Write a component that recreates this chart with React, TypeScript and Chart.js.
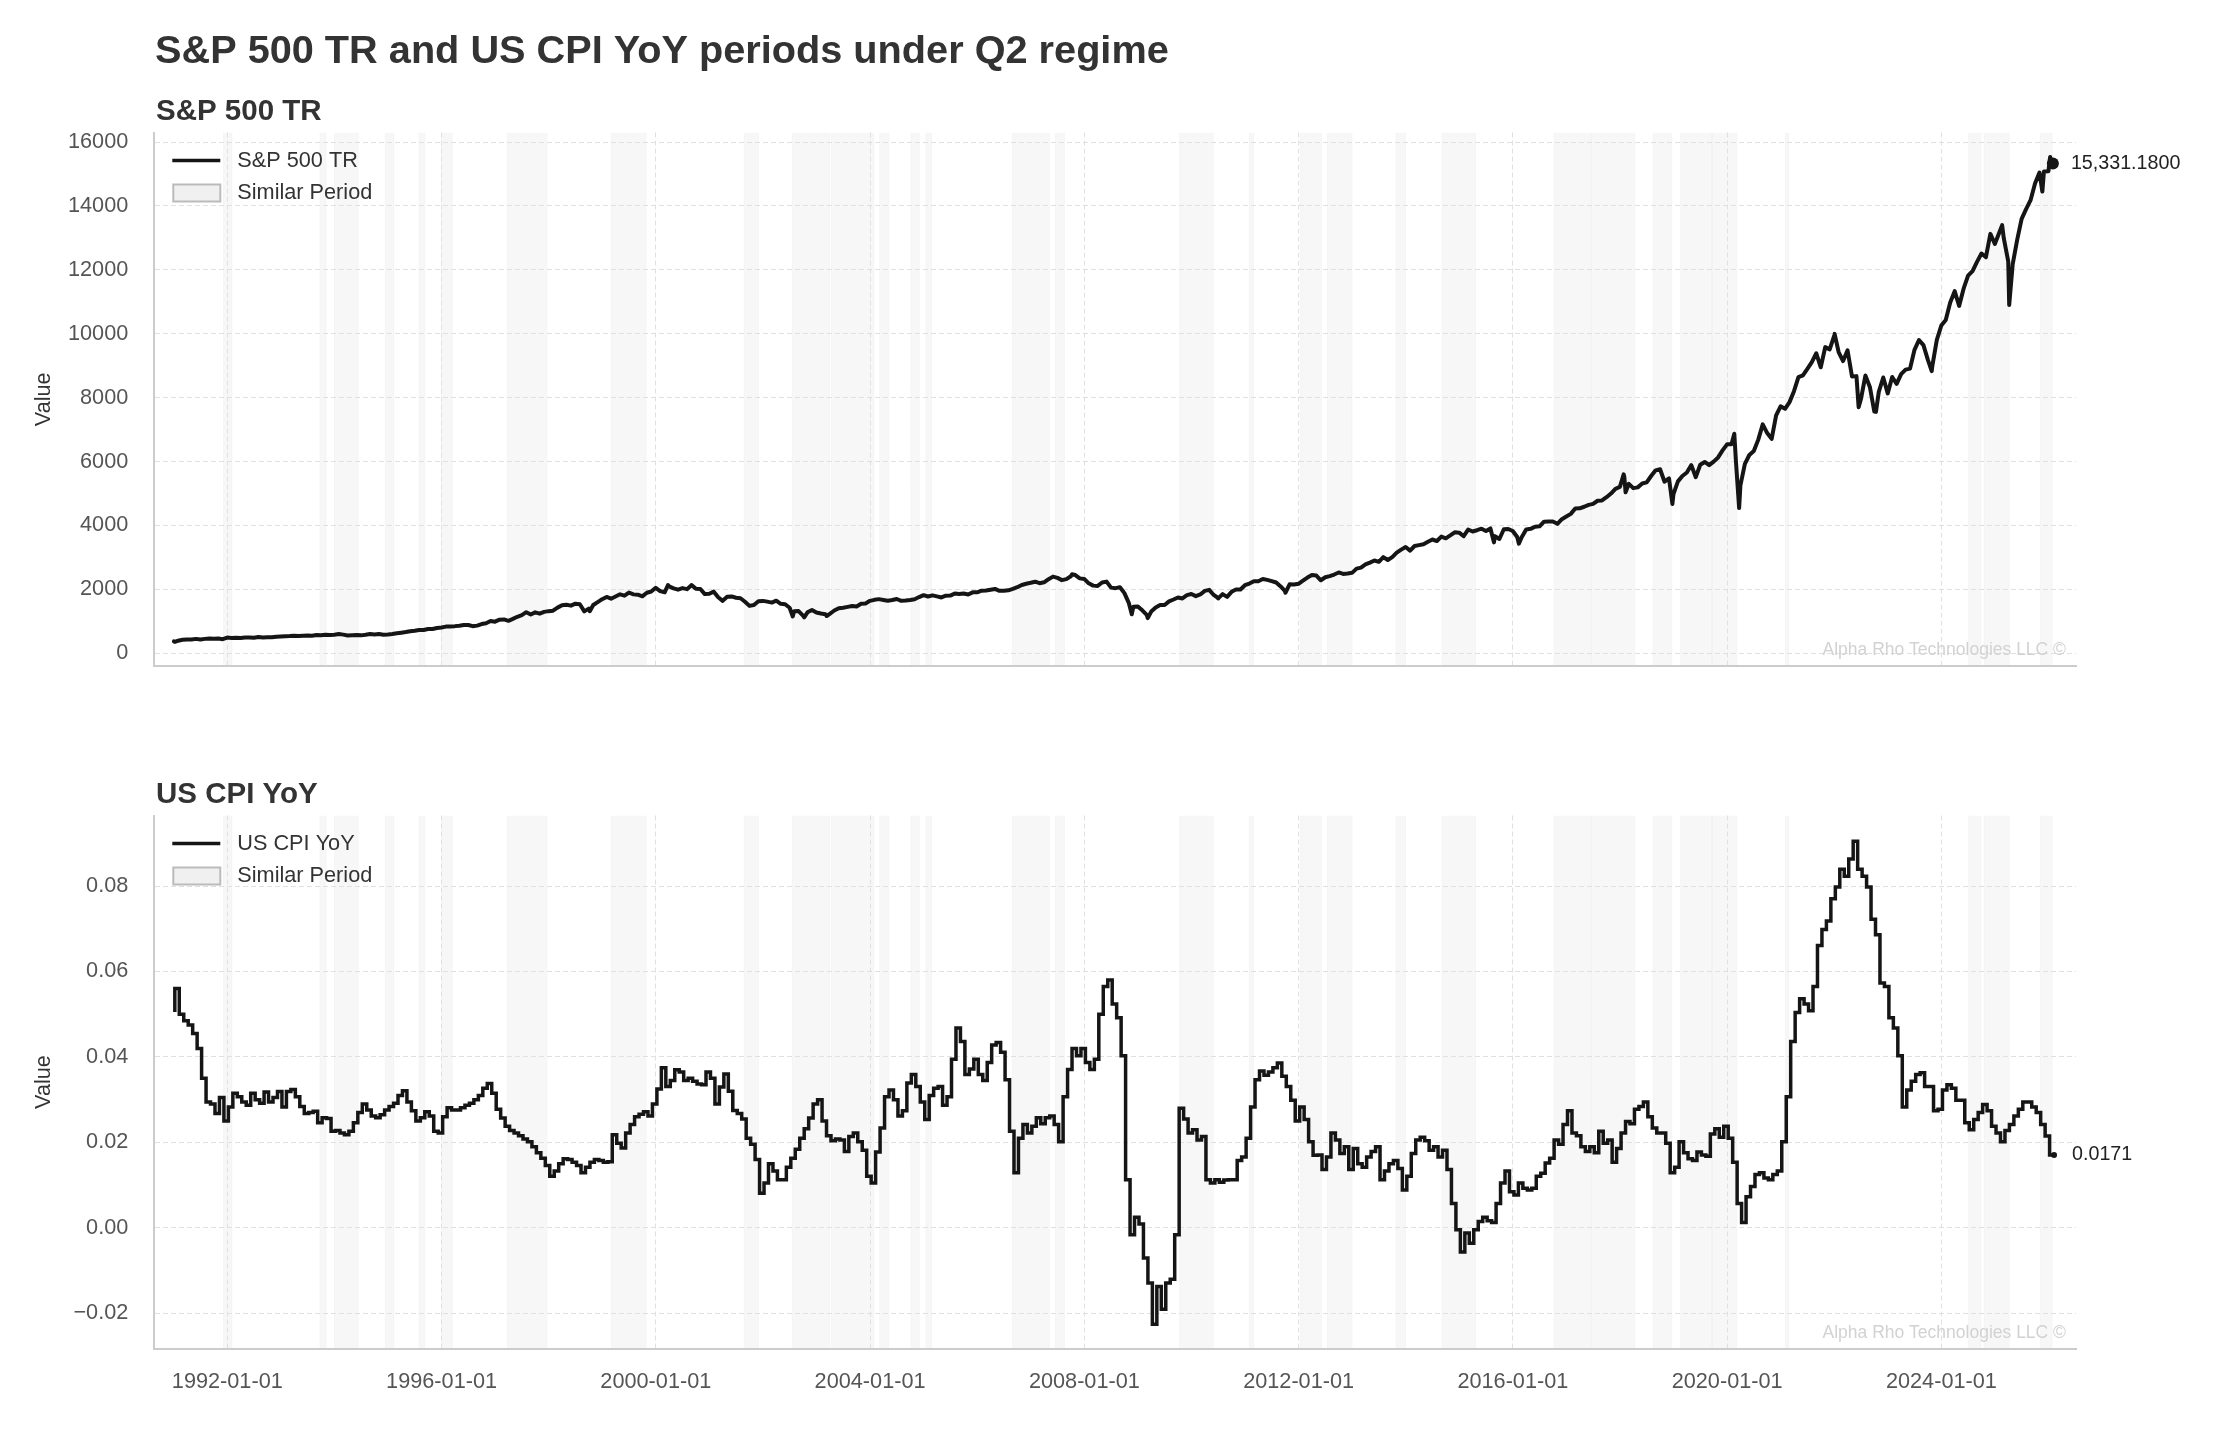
import React, { useEffect, useRef } from 'react';
import { Chart, registerables } from 'chart.js';

Chart.register(...registerables);

const FONT = '"Liberation Sans", Arial, Helvetica, sans-serif';

// ---- S&P 500 TR, month-end values (1991-01 .. 2026-01) ----
const spx1990s = [
  392, 420, 430, 431, 449, 428, 449, 459, 451, 458, 439, 489,
  480, 486, 476, 491, 493, 485, 506, 495, 500, 502, 519, 525,
  530, 537, 548, 536, 549, 551, 549, 570, 565, 577, 571, 578,
  599, 582, 557, 565, 573, 559, 577, 601, 586, 599, 577, 586,
  601, 624, 642, 662, 687, 703, 727, 728, 759, 757, 789, 805,
  833, 840, 848, 861, 882, 885, 847, 864, 912, 937, 1008, 988,
  1050, 1058, 1015, 1075, 1140, 1190, 1285, 1213, 1280, 1237, 1295, 1317,
  1332, 1427, 1500, 1516, 1489, 1550, 1533, 1311, 1395, 1508, 1599, 1691,
  1762, 1707, 1775, 1845, 1800, 1900, 1842, 1831, 1781, 1894, 1932, 2047,
];
const spx2000s = [
  1944, 1907, 2094, 2031, 1989, 2038, 2006, 2130, 2018, 2010, 1851, 1860,
  1927, 1751, 1640, 1768, 1779, 1736, 1720, 1611, 1481, 1509, 1625, 1638,
  1615, 1584, 1644, 1545, 1533, 1423, 1313, 1321, 1177, 1281, 1356, 1276,
  1242, 1223, 1235, 1337, 1407, 1426, 1451, 1479, 1463, 1546, 1559, 1640,
  1671, 1693, 1668, 1642, 1664, 1697, 1641, 1647, 1665, 1691, 1758, 1818,
  1775, 1811, 1779, 1746, 1800, 1803, 1871, 1852, 1868, 1838, 1905, 1906,
  1957, 1962, 1986, 2013, 1954, 1957, 1970, 2014, 2067, 2136, 2174, 2204,
  2239, 2193, 2219, 2318, 2398, 2359, 2288, 2320, 2408, 2447, 2343, 2326,
  2188, 2116, 2108, 2213, 2241, 2053, 2037, 2065, 1881, 1567, 1452, 1466,
  1343, 1197, 1303, 1428, 1506, 1509, 1624, 1682, 1746, 1715, 1817, 1852,
];
const spx2010s = [
  1787, 1840, 1952, 1983, 1824, 1728, 1850, 1765, 1922, 1996, 1994, 2128,
  2180, 2254, 2255, 2324, 2296, 2258, 2214, 2092, 1945, 2158, 2151, 2173,
  2272, 2368, 2447, 2432, 2284, 2378, 2412, 2464, 2528, 2483, 2494, 2516,
  2647, 2681, 2782, 2837, 2901, 2861, 3007, 2918, 3010, 3149, 3243, 3325,
  3212, 3356, 3383, 3410, 3487, 3560, 3512, 3650, 3597, 3687, 3784, 3774,
  3663, 3872, 3811, 3850, 3897, 3823, 3905, 3666, 3575, 3880, 3888, 3826,
  3638, 3631, 3876, 3893, 3959, 3971, 4119, 4121, 4122, 4050, 4196, 4278,
  4362, 4531, 4536, 4585, 4645, 4675, 4773, 4783, 4883, 4999, 5147, 5206,
  5507, 5302, 5168, 5191, 5311, 5347, 5548, 5725, 5759, 5369, 5474, 4979,
  5379, 5547, 5657, 5889, 5510, 5899, 5986, 5886, 5997, 6129, 6348, 6539,
];
const spx2020s = [
  6538, 5997, 5252, 5927, 6205, 6327, 6686, 7165, 6892, 6710, 7443, 7730,
  7652, 7860, 8203, 8642, 8699, 8902, 9114, 9389, 8951, 9581, 9511, 9937,
  9428, 9145, 9484, 8661, 8674, 7957, 8692, 8334, 7566, 8181, 8631, 8133,
  8646, 8430, 8738, 8877, 8909, 9497, 9806, 9643, 9185, 8995, 9809, 10256,
  10430, 10982, 11334, 10873, 11410, 11817, 11962, 12251, 12511, 12398, 13127, 12810,
  13168, 12993, 12262, 12180, 12941, 13595, 13902, 14180, 14701, 15048, 15082, 15087,
  15331.18,
];
// intra-month turning points of S&P 500 TR
const spxTurnDates = [
  '1991-01-02', '1991-01-09', '1998-10-08', '2000-03-24', '2000-09-01', '2002-07-23',
  '2002-10-09', '2003-03-11', '2007-10-09', '2008-11-20', '2009-03-09', '2010-07-02',
  '2011-10-03', '2015-08-25', '2016-02-11', '2018-01-26', '2018-02-08', '2018-12-24',
  '2020-02-19', '2020-03-23', '2022-01-03', '2022-06-16', '2022-10-12', '2023-10-27',
  '2025-02-19', '2025-04-08', '2025-11-20', '2026-01-12',
];
const spxTurnValues = [
  372, 356, 1316, 2135, 2138, 1150,
  1125, 1165, 2470, 1220, 1100, 1716,
  1890, 3470, 3430, 5600, 5040, 4670,
  6870, 4545, 10002, 7700, 7555, 8830,
  13400, 10900, 14450, 15530,
];

// ---- US CPI YoY, monthly (1991-01 .. 2026-02) ----
const cpi1990s = [
  0.0505, 0.0560, 0.0500, 0.0485, 0.0475, 0.0455, 0.0420, 0.0350, 0.0295, 0.0290, 0.0268, 0.0305,
  0.0250, 0.0283, 0.0315, 0.0307, 0.0295, 0.0287, 0.0315, 0.0300, 0.0292, 0.0318, 0.0295, 0.0305,
  0.0319, 0.0283, 0.0319, 0.0324, 0.0307, 0.0284, 0.0268, 0.0270, 0.0273, 0.0246, 0.0258, 0.0256,
  0.0226, 0.0228, 0.0222, 0.0218, 0.0226, 0.0246, 0.0270, 0.0290, 0.0276, 0.0262, 0.0258, 0.0265,
  0.0276, 0.0284, 0.0292, 0.0310, 0.0321, 0.0295, 0.0274, 0.0250, 0.0258, 0.0272, 0.0262, 0.0226,
  0.0222, 0.0260, 0.0281, 0.0276, 0.0276, 0.0281, 0.0287, 0.0292, 0.0300, 0.0310, 0.0327, 0.0338,
  0.0315, 0.0278, 0.0257, 0.0238, 0.0228, 0.0222, 0.0216, 0.0208, 0.0202, 0.0190, 0.0176, 0.0163,
  0.0146, 0.0121, 0.0133, 0.0150, 0.0162, 0.0160, 0.0154, 0.0146, 0.0129, 0.0142, 0.0154, 0.0160,
  0.0158, 0.0154, 0.0155, 0.0218, 0.0198, 0.0187, 0.0222, 0.0242, 0.0260, 0.0266, 0.0272, 0.0262,
];
const cpi2000s = [
  0.0290, 0.0325, 0.0375, 0.0331, 0.0345, 0.0370, 0.0365, 0.0345, 0.0350, 0.0343, 0.0337, 0.0335,
  0.0365, 0.0350, 0.0290, 0.0330, 0.0360, 0.0320, 0.0275, 0.0268, 0.0255, 0.0210, 0.0196, 0.0160,
  0.0081, 0.0105, 0.0150, 0.0133, 0.0113, 0.0113, 0.0142, 0.0163, 0.0184, 0.0210, 0.0232, 0.0257,
  0.0290, 0.0300, 0.0250, 0.0216, 0.0204, 0.0208, 0.0206, 0.0179, 0.0214, 0.0222, 0.0202, 0.0182,
  0.0121, 0.0105, 0.0178, 0.0234, 0.0307, 0.0323, 0.0300, 0.0262, 0.0274, 0.0339, 0.0359, 0.0331,
  0.0295, 0.0254, 0.0310, 0.0327, 0.0331, 0.0287, 0.0307, 0.0395, 0.0468, 0.0436, 0.0359, 0.0372,
  0.0395, 0.0359, 0.0345, 0.0387, 0.0428, 0.0434, 0.0411, 0.0347, 0.0226, 0.0129, 0.0210, 0.0242,
  0.0222, 0.0238, 0.0258, 0.0244, 0.0258, 0.0262, 0.0242, 0.0202, 0.0307, 0.0371, 0.0420, 0.0403,
  0.0420, 0.0387, 0.0371, 0.0395, 0.0500, 0.0565, 0.0580, 0.0524, 0.0492, 0.0403, 0.0113, -0.0016,
  0.0025, 0.0009, -0.0070, -0.0129, -0.0225, -0.0137, -0.0190, -0.0129, -0.0120, -0.0016, 0.0280, 0.0255,
];
const cpi2010s = [
  0.0222, 0.0230, 0.0206, 0.0214, 0.0113, 0.0105, 0.0113, 0.0107, 0.0112, 0.0113, 0.0113, 0.0158,
  0.0166, 0.0210, 0.0283, 0.0347, 0.0367, 0.0357, 0.0365, 0.0375, 0.0386, 0.0355, 0.0331, 0.0299,
  0.0250, 0.0283, 0.0254, 0.0202, 0.0170, 0.0171, 0.0137, 0.0166, 0.0222, 0.0206, 0.0174, 0.0190,
  0.0137, 0.0186, 0.0150, 0.0142, 0.0166, 0.0179, 0.0190, 0.0113, 0.0133, 0.0150, 0.0158, 0.0139,
  0.0089, 0.0121, 0.0174, 0.0206, 0.0212, 0.0204, 0.0182, 0.0190, 0.0166, 0.0182, 0.0137, 0.0057,
  -0.0004, -0.0056, -0.0012, -0.0036, -0.0004, 0.0015, 0.0025, 0.0017, 0.0013, 0.0057, 0.0105, 0.0133,
  0.0085, 0.0077, 0.0105, 0.0093, 0.0089, 0.0093, 0.0121, 0.0128, 0.0152, 0.0163, 0.0206, 0.0196,
  0.0242, 0.0274, 0.0222, 0.0216, 0.0190, 0.0179, 0.0190, 0.0176, 0.0226, 0.0198, 0.0206, 0.0154,
  0.0186, 0.0222, 0.0249, 0.0244, 0.0278, 0.0284, 0.0295, 0.0260, 0.0234, 0.0222, 0.0222, 0.0198,
  0.0129, 0.0142, 0.0202, 0.0176, 0.0162, 0.0158, 0.0178, 0.0171, 0.0168, 0.0220, 0.0232, 0.0212,
];
const cpi2020s = [
  0.0238, 0.0210, 0.0154, 0.0057, 0.0013, 0.0073, 0.0097, 0.0125, 0.0129, 0.0117, 0.0113, 0.0125,
  0.0133, 0.0202, 0.0307, 0.0436, 0.0504, 0.0536, 0.0524, 0.0508, 0.0565, 0.0661, 0.0698, 0.0718,
  0.0770, 0.0798, 0.0839, 0.0823, 0.0863, 0.0905, 0.0839, 0.0823, 0.0798, 0.0722, 0.0686, 0.0573,
  0.0565, 0.0492, 0.0468, 0.0403, 0.0283, 0.0323, 0.0343, 0.0359, 0.0363, 0.0331, 0.0331, 0.0274,
  0.0278, 0.0323, 0.0335, 0.0327, 0.0299, 0.0299, 0.0246, 0.0230, 0.0254, 0.0270, 0.0289, 0.0274,
  0.0238, 0.0222, 0.0202, 0.0228, 0.0242, 0.0262, 0.0278, 0.0295, 0.0295, 0.0283, 0.0270, 0.0242,
  0.0215, 0.0171,
];

// ---- "Similar Period" shaded spans ----
const bandStarts = [
  '1991-12-06', '1993-09-24', '1994-01-01', '1994-12-13', '1995-07-31', '1996-01-01',
  '1997-03-24', '1999-03-03', '2001-08-26', '2002-07-20', '2003-04-12', '2004-03-07',
  '2004-10-05', '2005-01-16', '2006-08-29', '2007-06-17', '2009-10-12', '2011-01-30',
  '2012-01-12', '2012-07-16', '2013-10-27', '2014-09-06', '2016-10-08', '2017-06-21',
  '2018-08-15', '2019-02-18', '2019-09-21', '2021-02-03', '2024-07-05', '2024-10-19',
  '2025-11-06',
];
const bandEnds = [
  '1992-02-02', '1993-11-05', '1994-06-13', '1995-02-10', '1995-09-09', '1996-03-14',
  '1997-12-20', '1999-10-27', '2001-12-01', '2003-04-01', '2004-01-26', '2004-05-08',
  '2004-12-02', '2005-02-25', '2007-05-08', '2007-08-18', '2010-05-30', '2011-02-28',
  '2012-06-06', '2012-12-31', '2013-12-31', '2015-04-23', '2017-06-18', '2018-04-12',
  '2018-12-20', '2019-09-20', '2020-03-07', '2021-02-25', '2024-09-27', '2025-04-09',
  '2026-01-26',
];

const yearTicks = [1992, 1996, 2000, 2004, 2008, 2012, 2016, 2020, 2024];
const spxTicks = [0, 2000, 4000, 6000, 8000, 10000, 12000, 14000, 16000];
const cpiTicks = [-0.02, 0, 0.02, 0.04, 0.06, 0.08];

const X_MIN = 1990.637;
const X_MAX = 2026.513;

function toYear(s: string): number {
  const [y, m, d] = s.split('-').map(Number);
  const t0 = Date.UTC(y, 0, 1);
  const t1 = Date.UTC(y + 1, 0, 1);
  return y + (Date.UTC(y, m - 1, d) - t0) / (t1 - t0);
}

const spxMonthly = [...spx1990s, ...spx2000s, ...spx2010s, ...spx2020s];
const spxPoints = spxMonthly
  .map((v, i) => ({ x: 1991 + (i + 1) / 12 - 0.002, y: v }))
  .concat(spxTurnDates.map((d, i) => ({ x: toYear(d), y: spxTurnValues[i] })))
  .sort((a, b) => a.x - b.x);

const cpiMonthly = [...cpi1990s, ...cpi2000s, ...cpi2010s, ...cpi2020s];
const cpiPoints = cpiMonthly.map((v, i) => ({ x: 1991 + i / 12 + 0.02, y: v }));

const LINE = '#151515';
const GRID = '#e0e0e0';
const SPINE = '#cccccc';
const TICK = '#555555';
const TEXT = '#333333';

const bandsPlugin = {
  id: 'bands',
  beforeDraw(chart: any) {
    const { ctx, chartArea, scales } = chart;
    const { left, right, top, bottom } = chartArea;
    const x = scales.x;
    ctx.save();
    ctx.beginPath();
    ctx.rect(left, top, right - left, bottom - top);
    ctx.clip();
    for (let i = 0; i < bandStarts.length; i++) {
      const x1 = x.getPixelForValue(toYear(bandStarts[i]));
      const x2 = x.getPixelForValue(toYear(bandEnds[i]));
      ctx.fillStyle = 'rgba(0,0,0,0.03)';
      ctx.fillRect(x1, top, x2 - x1, bottom - top);
      ctx.strokeStyle = 'rgba(0,0,0,0.03)';
      ctx.lineWidth = 1;
      ctx.beginPath();
      ctx.moveTo(x1, top);
      ctx.lineTo(x1, bottom);
      ctx.moveTo(x2, top);
      ctx.lineTo(x2, bottom);
      ctx.stroke();
    }
    ctx.restore();
  },
};

function makeOverlay(opts: {
  mainTitle?: string;
  subtitle: string;
  subtitleY: number;
  legendLabel: string;
  lineWidth: number;
  endLabel: string;
}) {
  return {
    id: 'overlay',
    afterDraw(chart: any) {
      const { ctx, chartArea } = chart;
      const L = chartArea.left;
      const T = chartArea.top;
      ctx.save();
      ctx.fillStyle = TEXT;
      ctx.textAlign = 'left';
      ctx.textBaseline = 'alphabetic';
      if (opts.mainTitle) {
        ctx.font = `bold 39.7px ${FONT}`;
        ctx.fillText(opts.mainTitle, 155, 63);
      }
      ctx.font = `bold 29.5px ${FONT}`;
      ctx.fillText(opts.subtitle, 156, opts.subtitleY);

      // legend
      ctx.strokeStyle = LINE;
      ctx.lineWidth = 3.6;
      ctx.lineCap = 'butt';
      ctx.beginPath();
      ctx.moveTo(L + 18, T + 28);
      ctx.lineTo(L + 66, T + 28);
      ctx.stroke();
      ctx.fillStyle = '#f0f0f0';
      ctx.fillRect(L + 19, T + 52, 47, 17);
      ctx.strokeStyle = '#bbbbbb';
      ctx.lineWidth = 2;
      ctx.strokeRect(L + 19, T + 52, 47, 17);
      ctx.fillStyle = TEXT;
      ctx.font = `21.7px ${FONT}`;
      ctx.textBaseline = 'middle';
      ctx.fillText(opts.legendLabel, L + 83, T + 29);
      ctx.fillText('Similar Period', L + 83, T + 61);

      // end label
      const meta = chart.getDatasetMeta(0);
      const last = meta.data[meta.data.length - 1];
      ctx.fillStyle = '#222222';
      ctx.font = `19.7px ${FONT}`;
      ctx.fillText(opts.endLabel, last.x + 18, last.y);

      // watermark
      ctx.fillStyle = '#d2d2d2';
      ctx.font = `17.5px ${FONT}`;
      ctx.textAlign = 'right';
      ctx.textBaseline = 'alphabetic';
      ctx.fillText('Alpha Rho Technologies LLC \u00a9', chartArea.right - 10, chartArea.bottom - 11);
      ctx.restore();
    },
  };
}

function yAxis(min: number, max: number, ticks: number[], fmt: (v: number) => string) {
  return {
    type: 'linear' as const,
    min,
    max,
    afterBuildTicks: (s: any) => {
      s.ticks = ticks.map((v) => ({ value: v }));
    },
    afterFit: (s: any) => {
      s.width = 154.3;
    },
    ticks: {
      color: TICK,
      font: { family: FONT, size: 21.7 },
      padding: 26,
      callback: (v: any) => fmt(Number(v)),
    },
    grid: { color: GRID, lineWidth: 1, drawTicks: false },
    border: { display: true, color: SPINE, width: 2, dash: [5, 3] },
    title: {
      display: true,
      text: 'Value',
      color: TEXT,
      font: { family: FONT, size: 21.7 },
      padding: { top: 31, bottom: 0 },
    },
  };
}

function xAxis(showLabels: boolean, height: number) {
  return {
    type: 'linear' as const,
    min: X_MIN,
    max: X_MAX,
    afterBuildTicks: (s: any) => {
      s.ticks = yearTicks.map((v) => ({ value: v }));
    },
    afterFit: (s: any) => {
      s.height = height;
    },
    ticks: {
      display: showLabels,
      color: TICK,
      font: { family: FONT, size: 21.7 },
      padding: 21,
      maxRotation: 0,
      autoSkip: false,
      callback: (v: any) => `${v}-01-01`,
    },
    grid: { color: GRID, lineWidth: 1, drawTicks: false },
    border: { display: true, color: SPINE, width: 2, dash: [5, 3] },
  };
}

export default function App() {
  const topRef = useRef<HTMLCanvasElement>(null);
  const botRef = useRef<HTMLCanvasElement>(null);

  useEffect(() => {
    const nSpx = spxPoints.length;
    const nCpi = cpiPoints.length;
    const top = new Chart(topRef.current as HTMLCanvasElement, {
      type: 'line',
      data: {
        datasets: [
          {
            label: 'S&P 500 TR',
            data: spxPoints,
            borderColor: LINE,
            backgroundColor: LINE,
            borderWidth: 4.0,
            borderJoinStyle: 'round',
            borderCapStyle: 'round',
            tension: 0,
            pointRadius: (c: any) => (c.dataIndex === nSpx - 1 ? 6 : 0),
            pointHoverRadius: 0,
            pointBorderWidth: 0,
            pointBackgroundColor: LINE,
          },
        ],
      },
      options: {
        responsive: false,
        maintainAspectRatio: false,
        animation: false,
        devicePixelRatio: 1,
        events: [],
        layout: { padding: { top: 132.5, bottom: 74, left: 0, right: 140 } },
        plugins: { legend: { display: false }, tooltip: { enabled: false }, title: { display: false } },
        scales: {
          x: xAxis(false, 0) as any,
          y: yAxis(-400, 16300, spxTicks, (v) => String(Math.round(v))) as any,
        },
      },
      plugins: [
        bandsPlugin,
        makeOverlay({
          mainTitle: 'S&P 500 TR and US CPI YoY periods under Q2 regime',
          subtitle: 'S&P 500 TR',
          subtitleY: 120,
          legendLabel: 'S&P 500 TR',
          lineWidth: 4.0,
          endLabel: '15,331.1800',
        }),
      ],
    });

    const bottom = new Chart(botRef.current as HTMLCanvasElement, {
      type: 'line',
      data: {
        datasets: [
          {
            label: 'US CPI YoY',
            data: cpiPoints,
            borderColor: LINE,
            backgroundColor: LINE,
            borderWidth: 3.5,
            borderJoinStyle: 'miter',
            stepped: 'after',
            pointRadius: (c: any) => (c.dataIndex === nCpi - 1 ? 3 : 0),
            pointHoverRadius: 0,
            pointBorderWidth: 0,
            pointBackgroundColor: LINE,
          },
        ],
      },
      options: {
        responsive: false,
        maintainAspectRatio: false,
        animation: false,
        devicePixelRatio: 1,
        events: [],
        layout: { padding: { top: 75.5, bottom: 0, left: 0, right: 140 } },
        plugins: { legend: { display: false }, tooltip: { enabled: false }, title: { display: false } },
        scales: {
          x: xAxis(true, 80.5) as any,
          y: yAxis(-0.0282, 0.0965, cpiTicks, (v) =>
            (v < -1e-9 ? '\u2212' : '') + Math.abs(v).toFixed(2)
          ) as any,
        },
      },
      plugins: [
        bandsPlugin,
        makeOverlay({
          subtitle: 'US CPI YoY',
          subtitleY: 63,
          legendLabel: 'US CPI YoY',
          lineWidth: 3.5,
          endLabel: '0.0171',
        }),
      ],
    });

    return () => {
      top.destroy();
      bottom.destroy();
    };
  }, []);

  return (
    <div
      style={{
        position: 'absolute',
        left: 0,
        top: 0,
        width: 2216,
        height: 1429,
        background: '#ffffff',
        overflow: 'hidden',
      }}
    >
      <canvas
        ref={topRef}
        width={2216}
        height={740}
        style={{ position: 'absolute', left: 0, top: 0, width: 2216, height: 740 }}
      />
      <canvas
        ref={botRef}
        width={2216}
        height={689}
        style={{ position: 'absolute', left: 0, top: 740, width: 2216, height: 689 }}
      />
    </div>
  );
}
